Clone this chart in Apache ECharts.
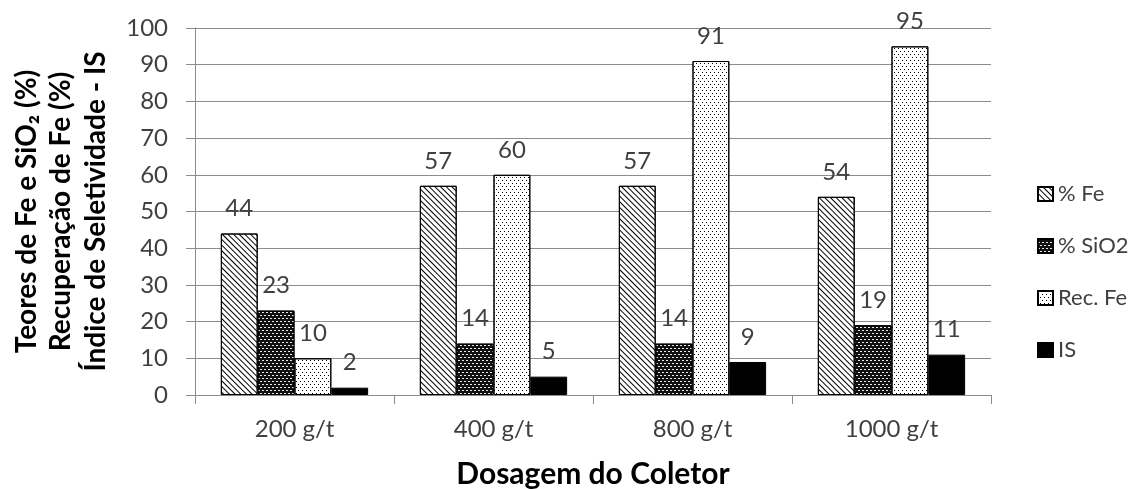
<!DOCTYPE html>
<html>
<head>
<meta charset="utf-8">
<script src="https://cdn.jsdelivr.net/npm/echarts@6/dist/echarts.min.js"></script>
<style>
  html, body { margin: 0; padding: 0; background: #fff; }
  #chart { width: 1136px; height: 489px; }
</style>
</head>
<body>
<div id="chart"></div>
<script>
// Collector dosage groups
const categories = ['200 g/t', '400 g/t', '800 g/t', '1000 g/t'];
const seriesNames = ['% Fe', '% SiO2', 'Rec. Fe', 'IS'];
const feGrade = [44, 57, 57, 54];
const sio2Grade = [23, 14, 14, 19];
const feRecovery = [10, 60, 91, 95];
const selectivity = [2, 5, 9, 11];
const yTicks = { min: 0, max: 100, interval: 10 };

const FONT = 'Lato';
const TEXT = '#404040';

// Monochrome fill patterns for each series
const patterns = [
  { fill: '#fff', decal: { symbol: 'rect', symbolSize: 1, symbolKeepAspect: false, color: '#000',
      dashArrayX: [1, 0], dashArrayY: [1, 2.4], rotation: Math.PI / 4 } },
  { fill: '#111', decal: { symbol: 'rect', symbolSize: 1, symbolKeepAspect: false, color: '#e8e8e8',
      dashArrayX: [[2, 2], [0, 2, 2, 0]], dashArrayY: [1, 2] } },
  { fill: '#fff', decal: { symbol: 'rect', symbolSize: 1, symbolKeepAspect: false, color: '#000',
      dashArrayX: [[1, 3], [0, 2, 1, 1]], dashArrayY: [1, 2] } },
  { fill: '#000', decal: null }
];

const values = [feGrade, sio2Grade, feRecovery, selectivity];

const series = values.map((data, i) => ({
  name: seriesNames[i],
  type: 'bar',
  data: data,
  barGap: '0%',
  barCategoryGap: '26%',
  itemStyle: Object.assign(
    { color: patterns[i].fill, borderColor: '#000', borderWidth: 1 },
    patterns[i].decal ? { decal: patterns[i].decal } : {}
  ),
  label: {
    show: true,
    position: 'top',
    distance: 13,
    color: TEXT,
    fontFamily: FONT,
    fontSize: 24
  }
}));

const chart = echarts.init(document.getElementById('chart'), null, { renderer: 'canvas' });
chart.setOption({
  animation: false,
  backgroundColor: '#fff',
  grid: { left: 195, right: 145, top: 28, bottom: 94, containLabel: false, outerBoundsMode: 'none' },
  legend: {
    orient: 'vertical',
    left: 1032,
    top: 178,
    itemWidth: 15,
    itemHeight: 14,
    itemGap: 30,
    icon: 'rect',
    textStyle: { color: TEXT, fontFamily: FONT, fontSize: 22, padding: [0, 0, 0, 0] },
    data: seriesNames
  },
  xAxis: {
    type: 'category',
    data: categories,
    name: 'Dosagem do Coletor',
    nameLocation: 'middle',
    nameGap: 64,
    nameTextStyle: { color: '#000', fontFamily: FONT, fontSize: 30, fontWeight: 'bold' },
    axisLine: { lineStyle: { color: '#8c8c8c', width: 1 } },
    axisTick: { show: true, length: 9, lineStyle: { color: '#8c8c8c' } },
    axisLabel: { color: TEXT, fontFamily: FONT, fontSize: 24, margin: 22 }
  },
  yAxis: {
    type: 'value',
    min: yTicks.min,
    max: yTicks.max,
    interval: yTicks.interval,
    name: 'Teores de Fe e SiO₂ (%)\nRecuperação de Fe (%)\nÍndice de Seletividade - IS',
    nameLocation: 'middle',
    nameRotate: 90,
    nameGap: 82,
    nameTextStyle: { color: '#000', fontFamily: FONT, fontSize: 28, fontWeight: 'bold', lineHeight: 34.5 },
    axisLine: { show: true, lineStyle: { color: '#8c8c8c', width: 1 } },
    axisTick: { show: true, length: 9, lineStyle: { color: '#8c8c8c' } },
    axisLabel: { color: TEXT, fontFamily: FONT, fontSize: 24, margin: 27 },
    splitLine: { show: true, lineStyle: { color: '#8c8c8c', width: 1 } }
  },
  series: series
});
</script>
</body>
</html>
